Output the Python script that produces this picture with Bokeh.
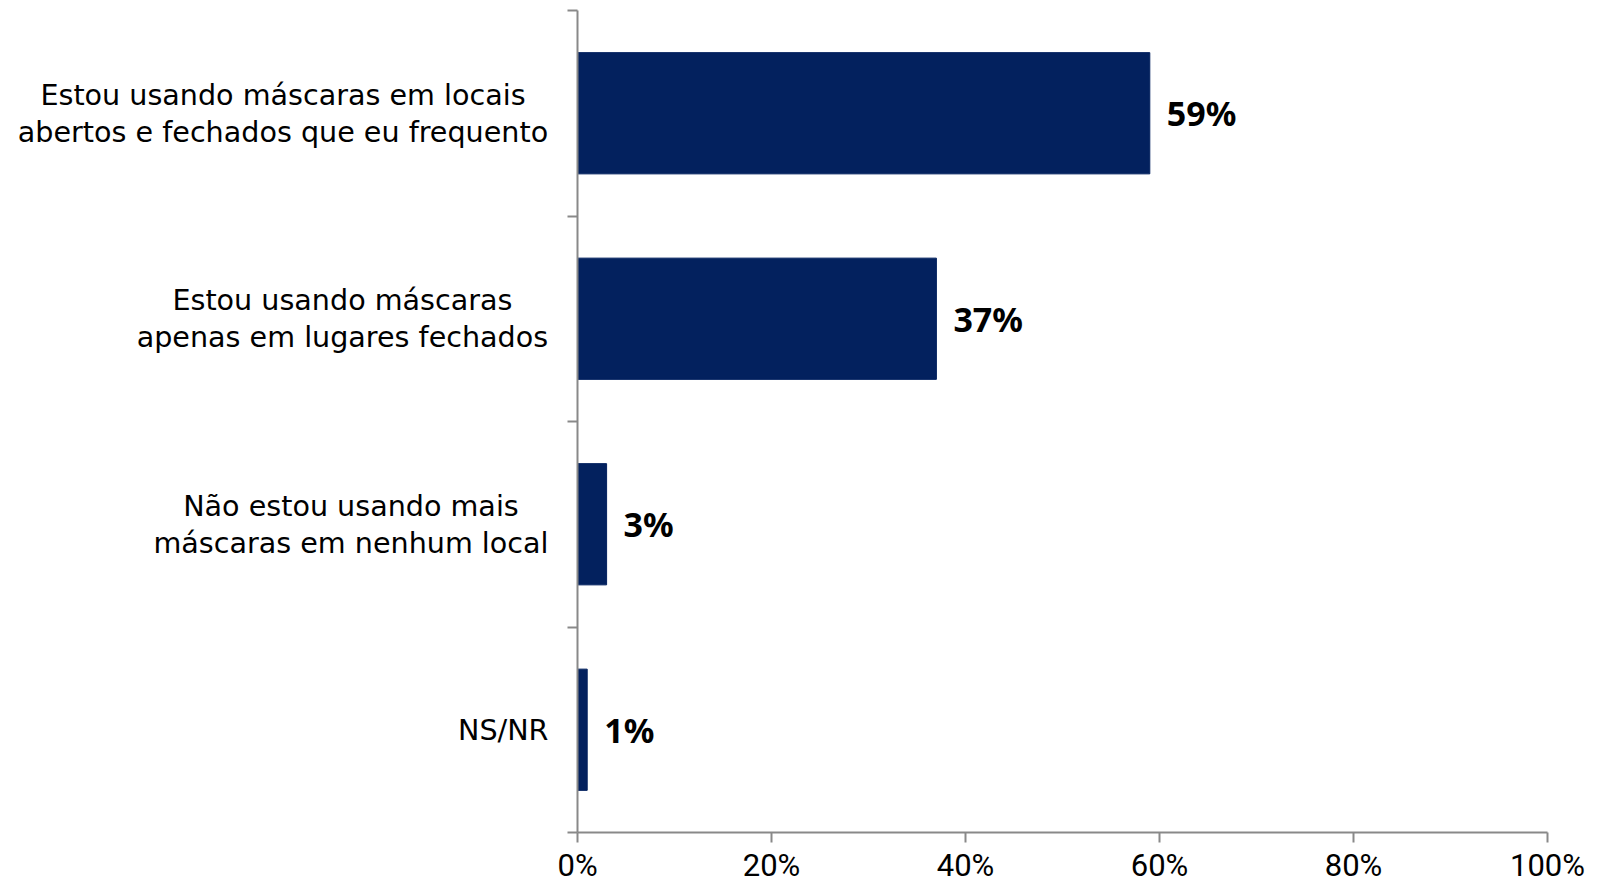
import glob, os, struct
from bokeh.plotting import figure
from bokeh.layouts import row
from bokeh.models import Range1d, FixedTicker, PrintfTickFormatter, ColumnDataSource
from bokeh.core.properties import value
from bokeh.embed import file_html
from bokeh.resources import INLINE

categories = [
    "Estou usando máscaras em locais\nabertos e fechados que eu frequento",
    "Estou usando máscaras\napenas em lugares fechados",
    "Não estou usando mais\nmáscaras em nenhum local",
    "NS/NR",
]
values = [59, 37, 3, 1]
value_labels = ["59%", "37%", "3%", "1%"]
x_ticks = [0, 20, 40, 60, 80, 100]

CAT_FONT = "DejaVu Sans"
CAT_SIZE = 28.6
CAT_GAP = 29          # px between the axis line and the right edge of the category text
LEFT_W = 557          # width of the label panel
AXIS_PAD = 20         # main figure's left border (room for outward tick marks)
TOP = 10
BOTTOM = 55
HEIGHT = 887


def _find_font(fname):
    for root in ("/usr/share/fonts", "/usr/local/share/fonts", os.path.expanduser("~/.fonts"),
                 os.path.expanduser("~/.local/share/fonts")):
        hits = glob.glob(os.path.join(root, "**", fname), recursive=True)
        if hits:
            return hits[0]
    return None


def _advance_fn(path):
    data = open(path, "rb").read()
    u16 = lambda o: struct.unpack(">H", data[o:o + 2])[0]
    u32 = lambda o: struct.unpack(">I", data[o:o + 4])[0]
    tables = {}
    for i in range(u16(4)):
        r = 12 + 16 * i
        tables[data[r:r + 4].decode("latin1")] = u32(r + 8)
    upem = u16(tables["head"] + 18)
    nhm = u16(tables["hhea"] + 34)
    hm = tables["hmtx"]
    adv = [u16(hm + 4 * i) for i in range(nhm)]
    cm = tables["cmap"]
    sub = None
    for i in range(u16(cm + 2)):
        pid, eid = u16(cm + 4 + 8 * i), u16(cm + 6 + 8 * i)
        off = u32(cm + 8 + 8 * i)
        if u16(cm + off) == 4 and (pid, eid) in ((3, 1), (0, 3), (0, 4), (0, 1), (0, 0)):
            sub = cm + off
            break
    segx2 = u16(sub + 6)
    ends = sub + 14
    starts = ends + segx2 + 2
    deltas = starts + segx2
    ranges = deltas + segx2

    def glyph(c):
        for i in range(segx2 // 2):
            if c <= u16(ends + 2 * i):
                s = u16(starts + 2 * i)
                if c < s:
                    return 0
                d = u16(deltas + 2 * i)
                ro = u16(ranges + 2 * i)
                if ro == 0:
                    return (c + d) & 0xFFFF
                g = u16(ranges + 2 * i + ro + 2 * (c - s))
                return (g + d) & 0xFFFF if g else 0
        return 0

    return lambda text, size: sum(adv[min(glyph(ord(ch)), nhm - 1)] for ch in text) / upem * size


try:
    _measure = _advance_fn(_find_font("DejaVuSans.ttf"))
except Exception:
    _measure = lambda text, size: 0.55 * size * len(text)

n = len(categories)
ypos = [i + 0.5 for i in range(n)]
y_range = Range1d(n, 0)

# ---------------- main chart ----------------
src = ColumnDataSource(dict(y=ypos, v=values, lab=value_labels))

p = figure(width=1595 - LEFT_W, height=HEIGHT, output_backend="svg", toolbar_location=None,
           x_range=Range1d(0, 100), y_range=y_range,
           min_border_left=AXIS_PAD, min_border_right=48, min_border_top=TOP, min_border_bottom=BOTTOM)
p.outline_line_color = None
p.xgrid.visible = False
p.ygrid.visible = False

p.hbar(y="y", left=0, right="v", height=0.59, source=src,
       fill_color="#03215E", line_color="#03215E")

p.text(x="v", y="y", text="lab", source=src, x_offset=17,
       text_baseline="middle", text_align="left",
       text_font=value("Noto Sans"), text_font_style="bold",
       text_font_size="34px", text_color="#000000")

axis_color = "#898989"
ya = p.yaxis[0]
ya.ticker = FixedTicker(ticks=[], minor_ticks=list(range(n + 1)))
ya.major_tick_out = 0
ya.major_tick_in = 0
ya.minor_tick_out = 10
ya.minor_tick_in = 0
ya.minor_tick_line_color = axis_color
ya.minor_tick_line_width = 2
ya.axis_line_color = axis_color
ya.axis_line_width = 2

xa = p.xaxis[0]
xa.ticker = FixedTicker(ticks=x_ticks, minor_ticks=[])
xa.formatter = PrintfTickFormatter(format="%d%%")
xa.major_tick_out = 10
xa.major_tick_in = 0
xa.major_tick_line_color = axis_color
xa.major_tick_line_width = 2
xa.minor_tick_line_color = None
xa.axis_line_color = axis_color
xa.axis_line_width = 2
xa.major_label_standoff = 4
xa.major_label_text_font = "Roboto"
xa.major_label_text_font_size = "31px"
xa.major_label_text_color = "#000000"

# ---------------- category label panel (x in screen pixels, 0 = panel's right edge) ----------------
cat_x = []
for cat in categories:
    w = max(_measure(line, CAT_SIZE) for line in cat.split("\n"))
    cat_x.append(-(CAT_GAP - AXIS_PAD) - w / 2.0)
cat_src = ColumnDataSource(dict(x=cat_x, y=ypos, text=categories))

lp = figure(width=LEFT_W, height=HEIGHT, output_backend="svg", toolbar_location=None,
            x_range=Range1d(-LEFT_W, 0), y_range=y_range,
            x_axis_type=None, y_axis_type=None,
            min_border_left=0, min_border_right=0, min_border_top=TOP, min_border_bottom=BOTTOM)
lp.outline_line_color = None
lp.text(x="x", y="y", text="text", source=cat_src,
        text_align="center", text_baseline="middle",
        text_font=value(CAT_FONT), text_font_size=f"{CAT_SIZE}px",
        text_line_height=1.1, text_color="#000000")

layout = row(lp, p)
open("out.html", "w").write(file_html(layout, INLINE))
